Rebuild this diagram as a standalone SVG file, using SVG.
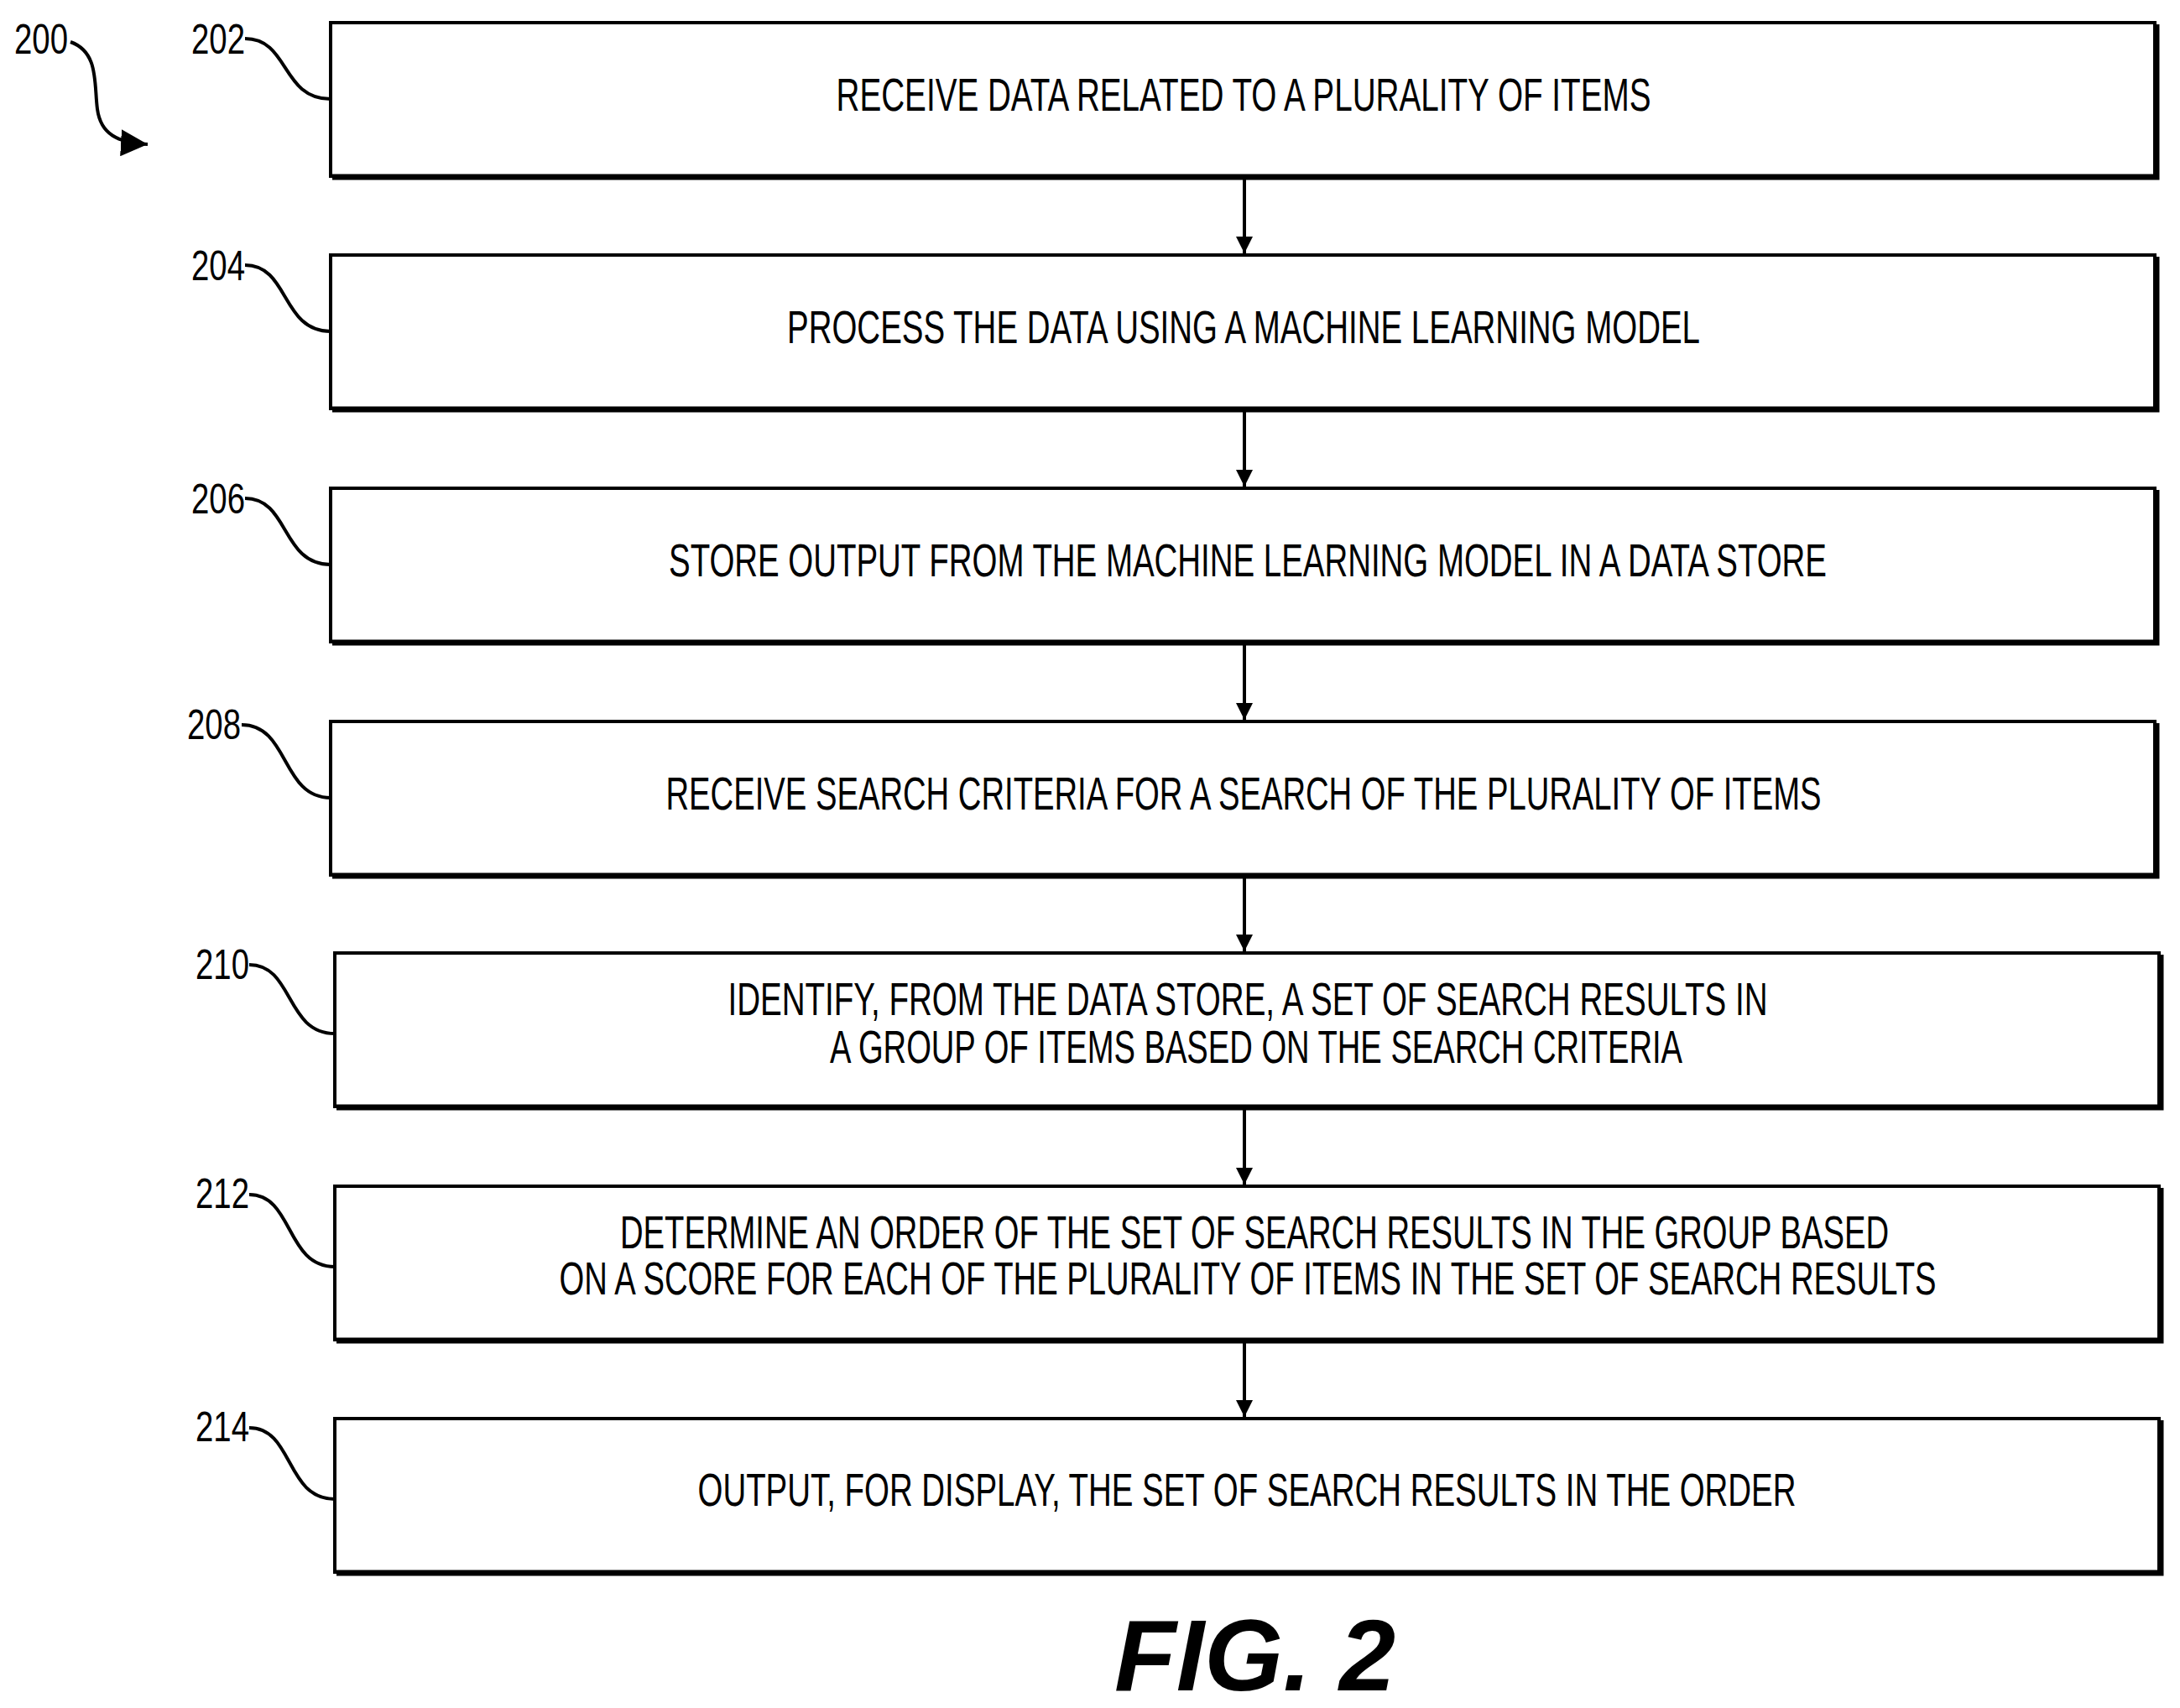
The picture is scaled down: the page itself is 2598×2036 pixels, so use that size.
<svg xmlns="http://www.w3.org/2000/svg" width="2598" height="2036" viewBox="0 0 2598 2036">
<style>
.box{fill:#fff;stroke:#000;stroke-width:4}
.sh{fill:none;stroke:#000;stroke-width:7}
.t{font-family:"Liberation Sans",Arial,sans-serif;font-size:56px;text-anchor:middle;fill:#000}
.lb{font-family:"Liberation Sans",Arial,sans-serif;font-size:50px;fill:#000}
.ld{fill:none;stroke:#000;stroke-width:4}
.cn{stroke:#000;stroke-width:4;fill:none}
</style>
<defs>
<marker id="ah" viewBox="0 0 10 10" refX="10" refY="5" markerWidth="5" markerHeight="5" orient="auto" markerUnits="strokeWidth"><path d="M0,0 L10,5 L0,10 z" fill="#000"/></marker>
<marker id="ah2" viewBox="0 0 10 10" refX="10" refY="5" markerWidth="8" markerHeight="8" orient="auto" markerUnits="strokeWidth"><path d="M0,0 L10,5 L0,10 z" fill="#000"/></marker>
</defs>
<g id="ref200">
<text class="lb" x="17" y="64" textLength="64" lengthAdjust="spacingAndGlyphs">200</text>
<path class="ld" d="M84,50 C118,62 112,100 116,130 C120,160 140,170 176,172" marker-end="url(#ah2)"/>
</g>
<g id="connectors">
<line class="cn" x1="1483" y1="212" x2="1483" y2="302" marker-end="url(#ah)"/>
<line class="cn" x1="1483" y1="489" x2="1483" y2="580" marker-end="url(#ah)"/>
<line class="cn" x1="1483" y1="767" x2="1483" y2="858" marker-end="url(#ah)"/>
<line class="cn" x1="1483" y1="1045" x2="1483" y2="1134" marker-end="url(#ah)"/>
<line class="cn" x1="1483" y1="1321" x2="1483" y2="1412" marker-end="url(#ah)"/>
<line class="cn" x1="1483" y1="1599" x2="1483" y2="1689" marker-end="url(#ah)"/>
</g>
<g id="n202">
<rect class="box" x="394" y="27" width="2174" height="183"/>
<polyline class="sh" points="396,211 2570,211 2570,29"/>
<text class="t" x="1482" y="132" textLength="971" lengthAdjust="spacingAndGlyphs">RECEIVE DATA RELATED TO A PLURALITY OF ITEMS</text>
<text class="lb" x="228" y="64" textLength="64" lengthAdjust="spacingAndGlyphs">202</text>
<path class="ld" d="M292,46 C345,46 335,118 394,118"/>
</g>
<g id="n204">
<rect class="box" x="394" y="304" width="2174" height="183"/>
<polyline class="sh" points="396,488 2570,488 2570,306"/>
<text class="t" x="1482" y="409" textLength="1088" lengthAdjust="spacingAndGlyphs">PROCESS THE DATA USING A MACHINE LEARNING MODEL</text>
<text class="lb" x="228" y="334" textLength="64" lengthAdjust="spacingAndGlyphs">204</text>
<path class="ld" d="M292,316 C345,316 335,395 394,395"/>
</g>
<g id="n206">
<rect class="box" x="394" y="582" width="2174" height="183"/>
<polyline class="sh" points="396,766 2570,766 2570,584"/>
<text class="t" x="1487" y="687" textLength="1380" lengthAdjust="spacingAndGlyphs">STORE OUTPUT FROM THE MACHINE LEARNING MODEL IN A DATA STORE</text>
<text class="lb" x="228" y="612" textLength="64" lengthAdjust="spacingAndGlyphs">206</text>
<path class="ld" d="M292,594 C345,594 335,673 394,673"/>
</g>
<g id="n208">
<rect class="box" x="394" y="860" width="2174" height="183"/>
<polyline class="sh" points="396,1044 2570,1044 2570,862"/>
<text class="t" x="1482" y="965" textLength="1377" lengthAdjust="spacingAndGlyphs">RECEIVE SEARCH CRITERIA FOR A SEARCH OF THE PLURALITY OF ITEMS</text>
<text class="lb" x="223" y="881" textLength="64" lengthAdjust="spacingAndGlyphs">208</text>
<path class="ld" d="M288,864 C345,864 335,951 394,951"/>
</g>
<g id="n210">
<rect class="box" x="399" y="1136" width="2174" height="183"/>
<polyline class="sh" points="401,1320 2575,1320 2575,1138"/>
<text class="t" x="1487" y="1210" textLength="1239" lengthAdjust="spacingAndGlyphs">IDENTIFY, FROM THE DATA STORE, A SET OF SEARCH RESULTS IN</text>
<text class="t" x="1497" y="1267" textLength="1016" lengthAdjust="spacingAndGlyphs">A GROUP OF ITEMS BASED ON THE SEARCH CRITERIA</text>
<text class="lb" x="233" y="1167" textLength="64" lengthAdjust="spacingAndGlyphs">210</text>
<path class="ld" d="M297,1150 C350,1150 340,1232 399,1232"/>
</g>
<g id="n212">
<rect class="box" x="399" y="1414" width="2174" height="183"/>
<polyline class="sh" points="401,1598 2575,1598 2575,1416"/>
<text class="t" x="1495" y="1488" textLength="1512" lengthAdjust="spacingAndGlyphs">DETERMINE AN ORDER OF THE SET OF SEARCH RESULTS IN THE GROUP BASED</text>
<text class="t" x="1487" y="1543" textLength="1641" lengthAdjust="spacingAndGlyphs">ON A SCORE FOR EACH OF THE PLURALITY OF ITEMS IN THE SET OF SEARCH RESULTS</text>
<text class="lb" x="233" y="1440" textLength="64" lengthAdjust="spacingAndGlyphs">212</text>
<path class="ld" d="M297,1424 C350,1424 340,1510 399,1510"/>
</g>
<g id="n214">
<rect class="box" x="399" y="1691" width="2174" height="183"/>
<polyline class="sh" points="401,1875 2575,1875 2575,1693"/>
<text class="t" x="1486" y="1795" textLength="1309" lengthAdjust="spacingAndGlyphs">OUTPUT, FOR DISPLAY, THE SET OF SEARCH RESULTS IN THE ORDER</text>
<text class="lb" x="233" y="1718" textLength="64" lengthAdjust="spacingAndGlyphs">214</text>
<path class="ld" d="M297,1702 C350,1702 340,1787 399,1787"/>
</g>
<text x="1328" y="2015" font-family="Liberation Sans,Arial,sans-serif" font-size="120" font-weight="bold" font-style="italic" textLength="335" lengthAdjust="spacingAndGlyphs">FIG. 2</text>
</svg>
